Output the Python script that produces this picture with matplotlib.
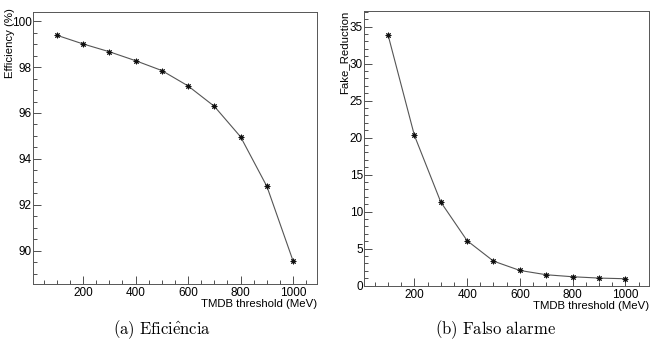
import matplotlib.pyplot as plt
from matplotlib.ticker import MultipleLocator

# TMDB threshold scan
threshold = [100, 200, 300, 400, 500, 600, 700, 800, 900, 1000]
efficiency = [99.39, 99.01, 98.67, 98.28, 97.85, 97.18, 96.29, 94.96, 92.80, 89.54]
fake_reduction = [33.88, 20.3, 11.3, 6.08, 3.32, 2.06, 1.48, 1.21, 1.03, 0.94]

plt.rcParams['font.family'] = ['Liberation Sans', 'DejaVu Sans']
plt.rcParams['mathtext.fontset'] = 'cm'

fig = plt.figure(figsize=(6.51, 3.40), dpi=100)

def root_style(ax, ymajor, yminor):
    ax.set_xlim(10, 1090)
    ax.xaxis.set_major_locator(MultipleLocator(200))
    ax.xaxis.set_minor_locator(MultipleLocator(50))
    ax.yaxis.set_major_locator(MultipleLocator(ymajor))
    ax.yaxis.set_minor_locator(MultipleLocator(yminor))
    ax.tick_params(which='both', direction='in', top=False, right=False,
                   labelsize=8.5, color='#333333', width=0.6)
    ax.tick_params(which='major', length=5.5)
    ax.tick_params(which='minor', length=3)
    ax.tick_params(axis='x', pad=2.5)
    ax.tick_params(axis='y', pad=1.0)
    for s in ax.spines.values():
        s.set_linewidth(0.7)
        s.set_color('#555555')
    ax.set_xlabel('TMDB threshold (MeV)', loc='right', fontsize=8.2)
    ax.xaxis.set_label_coords(1.0, -0.055)

def draw(ax, y):
    ax.plot(threshold, y, color='#555555', lw=0.8,
            marker=(8, 2, 0), ms=4, mec='#111111', mew=0.7)

ax1 = fig.add_axes([0.0507, 0.1647, 0.436, 0.800])
draw(ax1, efficiency)
ax1.set_ylim(88.55, 100.4)
root_style(ax1, 2, 0.5)
ax1.set_ylabel('Efficiency (%)', loc='top', fontsize=8.2)
ax1.yaxis.set_label_coords(-0.062, 1.015)

ax2 = fig.add_axes([0.5596, 0.1597, 0.4374, 0.808])
draw(ax2, fake_reduction)
ax2.set_ylim(0, 37.1)
root_style(ax2, 5, 1)
ax2.set_ylabel('Fake_Reduction', loc='top', fontsize=8.2)
ax2.yaxis.set_label_coords(-0.052, 1.0)

fig.text(162 / 651, 1 - 330 / 340, r'$\mathrm{(a)\ Efici\hat{e}ncia}$',
         ha='center', va='center', fontsize=12)
fig.text(496 / 651, 1 - 330 / 340, r'$\mathrm{(b)\ Falso\ alarme}$',
         ha='center', va='center', fontsize=12)

fig.savefig('out.png', dpi=100)
